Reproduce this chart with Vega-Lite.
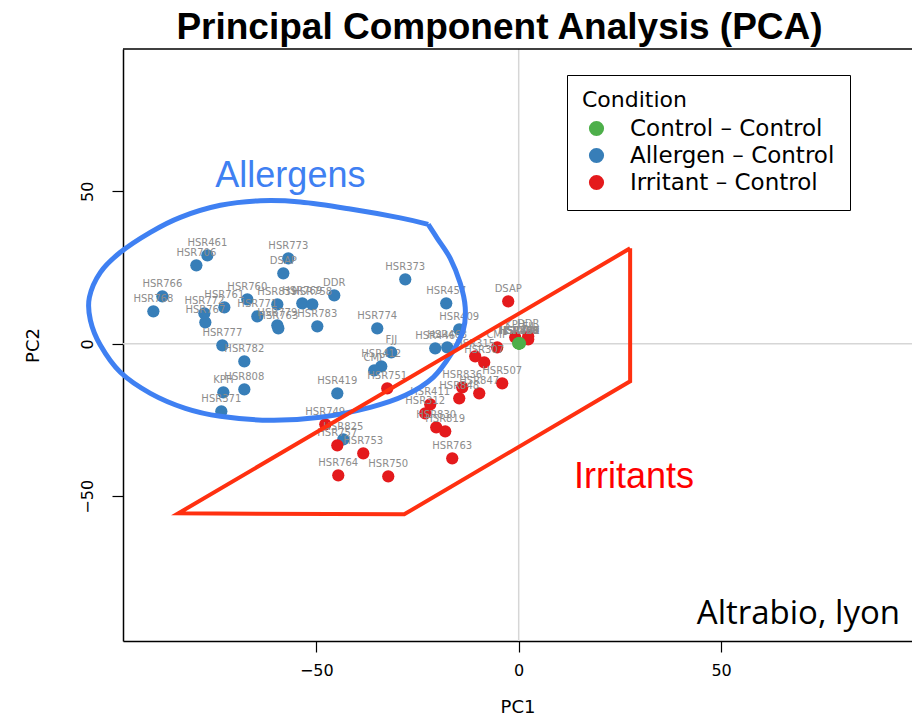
{
  "$schema": "https://vega.github.io/schema/vega-lite/v6.json",
  "width": 789,
  "height": 592,
  "autosize": {"type": "none"},
  "padding": {"left": 123, "top": 49, "right": 0, "bottom": 77},
  "background": "white",
  "title": {"text": "Principal Component Analysis (PCA)", "anchor": "middle", "dx": -18, "dy": 38, "offset": 10, "baseline": "alphabetic", "font": "Liberation Sans", "fontSize": 37, "fontWeight": "bold", "color": "black"},
  "config": {
    "view": {"stroke": null},
    "axis": {"domainColor": "black", "domainWidth": 1.5, "tickColor": "black", "tickWidth": 1.2, "tickSize": 11, "labelFont": "DejaVu Sans", "labelFontSize": 16, "labelColor": "black", "titleFont": "DejaVu Sans", "titleFontSize": 18, "titleFontWeight": "normal", "titleColor": "black", "grid": false}
  },
  "datasets": {
    "samples": [
      {"name": "HSR461", "PC1": -76.91, "PC2": 29.02, "Condition": "Allergen – Control"},
      {"name": "HSR706", "PC1": -79.63, "PC2": 25.74, "Condition": "Allergen – Control"},
      {"name": "HSR773", "PC1": -56.91, "PC2": 28.03, "Condition": "Allergen – Control"},
      {"name": "DSAP", "PC1": -58.15, "PC2": 23.11, "Condition": "Allergen – Control"},
      {"name": "HSR766", "PC1": -88.02, "PC2": 15.57, "Condition": "Allergen – Control"},
      {"name": "HSR768", "PC1": -90.25, "PC2": 10.66, "Condition": "Allergen – Control"},
      {"name": "HSR760", "PC1": -67.04, "PC2": 14.59, "Condition": "Allergen – Control"},
      {"name": "HSR761", "PC1": -72.72, "PC2": 11.97, "Condition": "Allergen – Control"},
      {"name": "HSR772", "PC1": -77.65, "PC2": 10.0, "Condition": "Allergen – Control"},
      {"name": "HSR767", "PC1": -77.41, "PC2": 7.05, "Condition": "Allergen – Control"},
      {"name": "HSR771", "PC1": -64.57, "PC2": 9.02, "Condition": "Allergen – Control"},
      {"name": "HSR839", "PC1": -59.63, "PC2": 12.95, "Condition": "Allergen – Control"},
      {"name": "HSR769", "PC1": -53.46, "PC2": 13.28, "Condition": "Allergen – Control"},
      {"name": "HSR758", "PC1": -50.99, "PC2": 12.95, "Condition": "Allergen – Control"},
      {"name": "DDR", "PC1": -45.56, "PC2": 15.9, "Condition": "Allergen – Control"},
      {"name": "HSR779", "PC1": -59.63, "PC2": 6.07, "Condition": "Allergen – Control"},
      {"name": "HSR763", "PC1": -59.38, "PC2": 5.08, "Condition": "Allergen – Control"},
      {"name": "HSR783", "PC1": -49.75, "PC2": 5.74, "Condition": "Allergen – Control"},
      {"name": "HSR777", "PC1": -73.21, "PC2": -0.49, "Condition": "Allergen – Control"},
      {"name": "HSR782", "PC1": -67.78, "PC2": -5.74, "Condition": "Allergen – Control"},
      {"name": "KPH", "PC1": -72.96, "PC2": -15.9, "Condition": "Allergen – Control"},
      {"name": "HSR808", "PC1": -67.78, "PC2": -14.92, "Condition": "Allergen – Control"},
      {"name": "HSR371", "PC1": -73.46, "PC2": -22.13, "Condition": "Allergen – Control"},
      {"name": "HSR419", "PC1": -44.81, "PC2": -16.23, "Condition": "Allergen – Control"},
      {"name": "HSR825", "PC1": -43.33, "PC2": -31.31, "Condition": "Allergen – Control"},
      {"name": "HSR373", "PC1": -28.02, "PC2": 21.15, "Condition": "Allergen – Control"},
      {"name": "HSR457", "PC1": -17.9, "PC2": 13.28, "Condition": "Allergen – Control"},
      {"name": "HSR774", "PC1": -34.94, "PC2": 5.08, "Condition": "Allergen – Control"},
      {"name": "HSR409", "PC1": -14.69, "PC2": 4.75, "Condition": "Allergen – Control"},
      {"name": "FJJ", "PC1": -31.48, "PC2": -2.79, "Condition": "Allergen – Control"},
      {"name": "HSR446", "PC1": -20.62, "PC2": -1.48, "Condition": "Allergen – Control"},
      {"name": "HSR463", "PC1": -17.65, "PC2": -1.15, "Condition": "Allergen – Control"},
      {"name": "HSR412", "PC1": -33.95, "PC2": -7.38, "Condition": "Allergen – Control"},
      {"name": "CMP", "PC1": -35.68, "PC2": -8.69, "Condition": "Allergen – Control"},
      {"name": "DSAP", "PC1": -2.59, "PC2": 13.93, "Condition": "Irritant – Control"},
      {"name": "KPH", "PC1": -0.86, "PC2": 2.13, "Condition": "Irritant – Control"},
      {"name": "DDR", "PC1": 2.35, "PC2": 2.46, "Condition": "Irritant – Control"},
      {"name": "FJJ", "PC1": 2.35, "PC2": 1.48, "Condition": "Irritant – Control"},
      {"name": "CMP", "PC1": -5.31, "PC2": -1.15, "Condition": "Irritant – Control"},
      {"name": "HSR315", "PC1": -10.74, "PC2": -4.1, "Condition": "Irritant – Control"},
      {"name": "HSR307", "PC1": -8.52, "PC2": -6.07, "Condition": "Irritant – Control"},
      {"name": "HSR507", "PC1": -4.07, "PC2": -12.95, "Condition": "Irritant – Control"},
      {"name": "HSR836", "PC1": -13.95, "PC2": -14.26, "Condition": "Irritant – Control"},
      {"name": "HSR847", "PC1": -9.75, "PC2": -16.23, "Condition": "Irritant – Control"},
      {"name": "HSR848", "PC1": -14.69, "PC2": -17.87, "Condition": "Irritant – Control"},
      {"name": "HSR411", "PC1": -21.85, "PC2": -19.84, "Condition": "Irritant – Control"},
      {"name": "HSR312", "PC1": -23.09, "PC2": -22.79, "Condition": "Irritant – Control"},
      {"name": "HSR830", "PC1": -20.37, "PC2": -27.38, "Condition": "Irritant – Control"},
      {"name": "HSR819", "PC1": -18.15, "PC2": -28.69, "Condition": "Irritant – Control"},
      {"name": "HSR763", "PC1": -16.42, "PC2": -37.54, "Condition": "Irritant – Control"},
      {"name": "HSR751", "PC1": -32.47, "PC2": -14.59, "Condition": "Irritant – Control"},
      {"name": "HSR749", "PC1": -47.78, "PC2": -26.39, "Condition": "Irritant – Control"},
      {"name": "HSR757", "PC1": -44.81, "PC2": -33.28, "Condition": "Irritant – Control"},
      {"name": "HSR753", "PC1": -38.4, "PC2": -35.9, "Condition": "Irritant – Control"},
      {"name": "HSR764", "PC1": -44.57, "PC2": -43.11, "Condition": "Irritant – Control"},
      {"name": "HSR750", "PC1": -32.22, "PC2": -43.44, "Condition": "Irritant – Control"},
      {"name": "HSR461", "PC1": 0.12, "PC2": 0.16, "Condition": "Control – Control"},
      {"name": "HSR706", "PC1": 0.05, "PC2": 0.16, "Condition": "Control – Control"},
      {"name": "HSR766", "PC1": 0.2, "PC2": 0.16, "Condition": "Control – Control"},
      {"name": "HSR808", "PC1": -0.05, "PC2": 0.16, "Condition": "Control – Control"},
      {"name": "HSR772", "PC1": 0.3, "PC2": 0.16, "Condition": "Control – Control"},
      {"name": "HSR758", "PC1": -0.1, "PC2": 0.16, "Condition": "Control – Control"},
      {"name": "HSR839", "PC1": 0.15, "PC2": 0.16, "Condition": "Control – Control"}
    ],
    "ellipse": [
      {"i": 1, "PC1": -22.35, "PC2": 39.18},
      {"i": 2, "PC1": -29.26, "PC2": 41.3},
      {"i": 3, "PC1": -41.6, "PC2": 44.2},
      {"i": 4, "PC1": -53.95, "PC2": 46.5},
      {"i": 5, "PC1": -63.83, "PC2": 46.9},
      {"i": 6, "PC1": -73.7, "PC2": 45.41},
      {"i": 7, "PC1": -83.58, "PC2": 41.48},
      {"i": 8, "PC1": -90.99, "PC2": 36.56},
      {"i": 9, "PC1": -98.4, "PC2": 30.0},
      {"i": 10, "PC1": -103.33, "PC2": 23.44},
      {"i": 11, "PC1": -106.05, "PC2": 15.25},
      {"i": 12, "PC1": -105.8, "PC2": 7.7},
      {"i": 13, "PC1": -103.33, "PC2": -0.49},
      {"i": 14, "PC1": -98.4, "PC2": -9.34},
      {"i": 15, "PC1": -90.99, "PC2": -16.23},
      {"i": 16, "PC1": -82.35, "PC2": -21.15},
      {"i": 17, "PC1": -73.7, "PC2": -23.77},
      {"i": 18, "PC1": -61.36, "PC2": -25.08},
      {"i": 19, "PC1": -49.01, "PC2": -24.1},
      {"i": 20, "PC1": -36.67, "PC2": -20.82},
      {"i": 21, "PC1": -28.02, "PC2": -16.89},
      {"i": 22, "PC1": -21.11, "PC2": -10.98},
      {"i": 23, "PC1": -16.42, "PC2": -2.79},
      {"i": 24, "PC1": -13.7, "PC2": 4.43},
      {"i": 25, "PC1": -13.21, "PC2": 11.97},
      {"i": 26, "PC1": -14.44, "PC2": 19.84},
      {"i": 27, "PC1": -16.91, "PC2": 28.03},
      {"i": 28, "PC1": -20.12, "PC2": 34.59},
      {"i": 29, "PC1": -22.35, "PC2": 39.18}
    ],
    "polygon": [
      {"i": 1, "PC1": 27.53, "PC2": 31.31},
      {"i": 2, "PC1": 27.53, "PC2": -12.3},
      {"i": 3, "PC1": -28.27, "PC2": -55.9},
      {"i": 4, "PC1": -84.07, "PC2": -55.57},
      {"i": 5, "PC1": 27.53, "PC2": 31.31}
    ],
    "zero": [{"v": 0}],
    "frame": [{"PC2": 96.66}],
    "allergens": [{"note": "Allergens", "PC1": -56.4, "PC2": 51.3}],
    "irritants": [{"note": "Irritants", "PC1": 28.5, "PC2": -47.4}],
    "source": [{"note": "Altrabio, lyon", "PC1": 94.2, "PC2": -92.0}]
  },
  "layer": [
    {
      "data": {"name": "zero"},
      "mark": {"type": "rule", "color": "#d6d6d6", "strokeWidth": 1.5},
      "encoding": {"x": {"field": "v", "type": "quantitative"}}
    },
    {
      "data": {"name": "zero"},
      "mark": {"type": "rule", "color": "#d6d6d6", "strokeWidth": 1.5},
      "encoding": {"y": {"field": "v", "type": "quantitative"}}
    },
    {
      "data": {"name": "frame"},
      "mark": {"type": "rule", "color": "black", "strokeWidth": 1.5},
      "encoding": {"y": {"field": "PC2", "type": "quantitative"}}
    },
    {
      "data": {"name": "samples"},
      "mark": {"type": "circle", "opacity": 1, "size": 150},
      "encoding": {
        "x": {"field": "PC1", "type": "quantitative", "scale": {"domain": [-97.75, 97.16], "nice": false, "zero": false},
              "axis": {"orient": "bottom", "values": [-50, 0, 50], "title": "PC1", "labelPadding": 10, "titlePadding": 20}},
        "y": {"field": "PC2", "type": "quantitative", "scale": {"domain": [-97.44, 96.66], "nice": false, "zero": false},
              "axis": {"values": [-50, 0, 50], "title": "PC2", "labelAngle": -90, "labelAlign": "center", "labelBaseline": "bottom", "labelPadding": 17, "titlePadding": 37}},
        "color": {"field": "Condition", "type": "nominal",
                  "scale": {"domain": ["Control – Control", "Allergen – Control", "Irritant – Control"], "range": ["#4DAF4A", "#377EB8", "#E41A1C"]},
                  "legend": {"orient": "none", "legendX": 444, "legendY": 26, "title": "Condition", "padding": 15, "strokeColor": "black", "fillColor": "white",
                             "titleFont": "DejaVu Sans", "titleFontSize": 22, "titleFontWeight": "normal", "titleColor": "black", "titlePadding": 5,
                             "labelFont": "DejaVu Sans", "labelFontSize": 23, "labelColor": "black", "labelOffset": 22, "labelLimit": 400, "symbolSize": 230, "symbolType": "circle", "symbolOffset": 3, "rowPadding": 3, "symbolStrokeWidth": 0,
                             "encode": {"legend": {"update": {"strokeWidth": {"value": 2}}}}}}
      }
    },
    {
      "data": {"name": "samples"},
      "mark": {"type": "text", "dy": -12, "baseline": "middle", "align": "center", "font": "DejaVu Sans", "fontSize": 10, "color": "#8c8c8c"},
      "encoding": {
        "x": {"field": "PC1", "type": "quantitative"},
        "y": {"field": "PC2", "type": "quantitative"},
        "text": {"field": "name"}
      }
    },
    {
      "data": {"name": "ellipse"},
      "mark": {"type": "line", "interpolate": "cardinal", "color": "#3F80F2", "strokeWidth": 5},
      "encoding": {
        "x": {"field": "PC1", "type": "quantitative"},
        "y": {"field": "PC2", "type": "quantitative"},
        "order": {"field": "i", "type": "quantitative"}
      }
    },
    {
      "data": {"name": "polygon"},
      "mark": {"type": "line", "color": "#FF3010", "strokeWidth": 4, "strokeJoin": "miter"},
      "encoding": {
        "x": {"field": "PC1", "type": "quantitative"},
        "y": {"field": "PC2", "type": "quantitative"},
        "order": {"field": "i", "type": "quantitative"}
      }
    },
    {
      "data": {"name": "allergens"},
      "mark": {"type": "text", "baseline": "alphabetic", "align": "center", "font": "Liberation Sans", "fontSize": 36, "color": "#3F80F2"},
      "encoding": {
        "x": {"field": "PC1", "type": "quantitative"},
        "y": {"field": "PC2", "type": "quantitative"},
        "text": {"field": "note"}
      }
    },
    {
      "data": {"name": "irritants"},
      "mark": {"type": "text", "baseline": "alphabetic", "align": "center", "font": "Liberation Sans", "fontSize": 36, "color": "#FF0000"},
      "encoding": {
        "x": {"field": "PC1", "type": "quantitative"},
        "y": {"field": "PC2", "type": "quantitative"},
        "text": {"field": "note"}
      }
    },
    {
      "data": {"name": "source"},
      "mark": {"type": "text", "baseline": "alphabetic", "align": "right", "font": "Open Sans", "fontSize": 33, "color": "black"},
      "encoding": {
        "x": {"field": "PC1", "type": "quantitative"},
        "y": {"field": "PC2", "type": "quantitative"},
        "text": {"field": "note"}
      }
    }
  ]
}
